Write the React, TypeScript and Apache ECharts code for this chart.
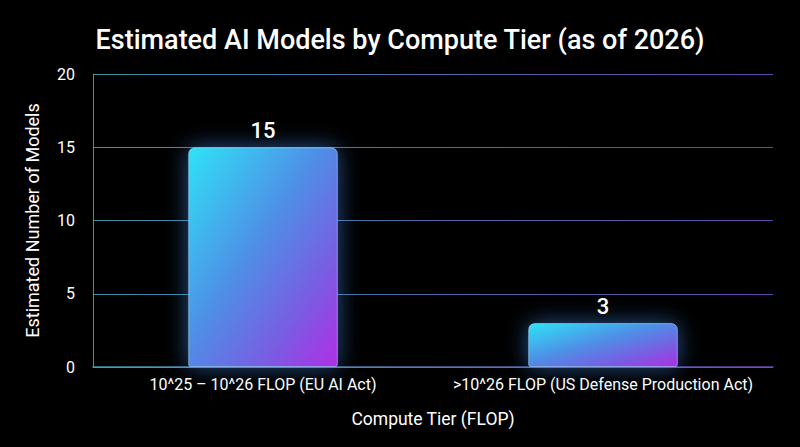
import React, { useEffect, useRef } from "react";
import * as echarts from "echarts";

const categories = ["10^25 – 10^26 FLOP (EU AI Act)", ">10^26 FLOP (US Defense Production Act)"];
const modelCounts = [15, 3];
const titleText = "Estimated AI Models by Compute Tier (as of 2026)";
const xAxisName = "Compute Tier (FLOP)";
const yAxisName = "Estimated Number of Models";

export default function App() {
  const ref = useRef<HTMLDivElement>(null);
  useEffect(() => {
    if (!ref.current) return;
    const chart = echarts.init(ref.current, null, { renderer: "svg" });
    const font = "Roboto, 'Noto Sans', sans-serif";
    const gridGrad = () =>
      new echarts.graphic.LinearGradient(93, 0, 773, 0, [
        { offset: 0, color: "rgba(70,170,190,0.85)" },
        { offset: 1, color: "rgba(120,80,200,0.85)" },
      ], true);
    const barGrad = new echarts.graphic.LinearGradient(0, 0, 1, 1, [
      { offset: 0, color: "#2fe2f6" },
      { offset: 0.45, color: "#4f8ee6" },
      { offset: 0.75, color: "#7a5ce2" },
      { offset: 1, color: "#b12ee6" },
    ]);
    chart.setOption({
      animation: false,
      backgroundColor: "#000000",
      title: {
        text: titleText,
        left: "center",
        top: 21,
        textStyle: { color: "#ffffff", fontFamily: font, fontSize: 27, fontWeight: 500 },
      },
      grid: { left: 93, right: 27, top: 74, bottom: 80, containLabel: false },
      xAxis: {
        type: "category",
        data: categories,
        name: xAxisName,
        nameLocation: "middle",
        nameGap: 43,
        nameTextStyle: { color: "#ffffff", fontFamily: font, fontSize: 17.5 },
        axisLine: { show: true, lineStyle: { color: gridGrad(), width: 1.5 } },
        axisTick: { show: false },
        axisLabel: { color: "#ffffff", fontFamily: font, fontSize: 16, margin: 9, interval: 0 },
      },
      yAxis: {
        type: "value",
        min: 0,
        max: 20,
        interval: 5,
        name: yAxisName,
        nameLocation: "middle",
        nameGap: 52,
        nameTextStyle: { color: "#ffffff", fontFamily: font, fontSize: 18 },
        axisLine: { show: true, lineStyle: { color: "rgba(70,170,190,0.85)", width: 1 } },
        axisTick: { show: false },
        axisLabel: { color: "#ffffff", fontFamily: font, fontSize: 16, margin: 18 },
        splitLine: { show: true, lineStyle: { color: gridGrad(), width: 1 } },
      },
      series: [
        {
          type: "bar",
          data: modelCounts,
          barWidth: "44%",
          itemStyle: {
            color: barGrad,
            borderRadius: [6, 6, 2, 2],
            borderColor: "rgba(170,220,255,0.55)",
            borderWidth: 1,
            shadowBlur: 22,
            shadowColor: "rgba(70,150,255,0.55)",
          },
          label: {
            show: true,
            position: "top",
            distance: 6,
            color: "#ffffff",
            fontFamily: font,
            fontSize: 22,
            fontWeight: 500,
          },
        },
      ],
    });
    return () => chart.dispose();
  }, []);
  return (
    <div
      ref={ref}
      style={{ position: "fixed", left: 0, top: 0, width: 800, height: 447, background: "#000" }}
    />
  );
}
